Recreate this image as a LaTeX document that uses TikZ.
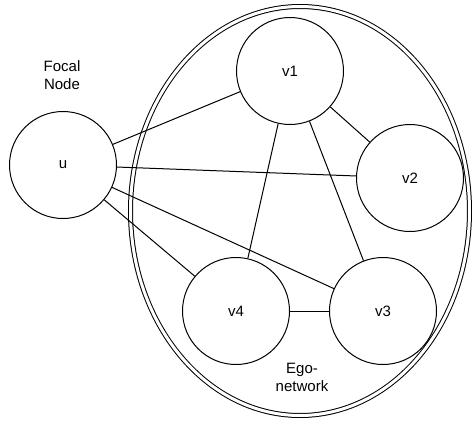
\documentclass[tikz,border=0pt]{standalone}
\usepackage{fontspec}
\setmainfont{Liberation Sans}
\begin{document}
\begin{tikzpicture}[x=1pt,y=-1pt,line width=1pt,
  vertex/.style={draw,circle,minimum size=107pt,inner sep=0pt,font=\fontsize{15}{18}\selectfont},
  label text/.style={align=center,font=\fontsize{15}{18}\selectfont},
  edge/.style={draw,line width=1pt}]
\useasboundingbox (0,0) rectangle (472,421);
% ego-network boundary
\draw[double,double distance=3pt] (300,211) ellipse [x radius=169.5, y radius=204.5];
% nodes
\node[vertex] (u)  at (63,165)  {u};
\node[vertex] (v1) at (290,71)  {v1};
\node[vertex] (v2) at (410,178) {v2};
\node[vertex] (v3) at (383,311) {v3};
\node[vertex] (v4) at (236,311) {v4};
% labels
\node[label text] (focal) at (62,75) {Focal\\Node};
\node[label text] (ego) at (302,377) {Ego-\\network};
% edges
\draw[edge] (u) -- (v1);
\draw[edge] (u) -- (v2);
\draw[edge] (u) -- (v3);
\draw[edge] (u) -- (v4);
\draw[edge] (v1) -- (v2);
\draw[edge] (v1) -- (v3);
\draw[edge] (v1) -- (v4);
\draw[edge] (v4) -- (v3);
\end{tikzpicture}
\end{document}
